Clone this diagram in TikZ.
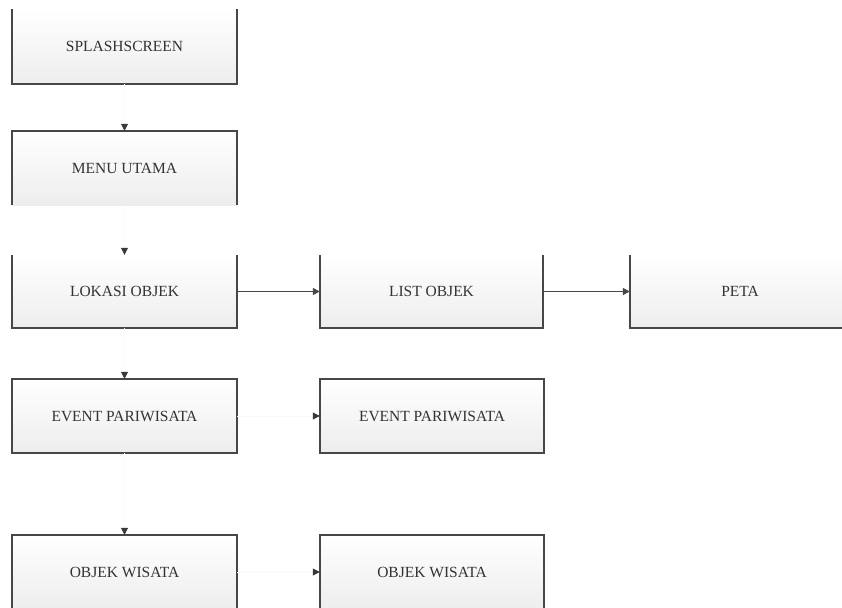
\documentclass[tikz,border=0pt]{standalone}
\usepackage{fontspec}
\setmainfont{Liberation Serif}
\usetikzlibrary{arrows.meta}
\begin{document}
\begin{tikzpicture}[x=1pt,y=-1pt,
  menubox/.style={draw=none, top color=white, bottom color=black!7,
    minimum width=225pt, minimum height=74pt, inner sep=0pt,
    font=\fontsize{15.5}{18}\selectfont, text=black!80},
  boxedge/.style={draw=black!72, line width=1.8pt},
  flow/.style={draw=black!72, line width=1.3pt,
    -{Triangle[length=7pt,width=7pt]}},
  faint/.style={draw=black!2, line width=0.8pt,
    -{Triangle[length=7pt,width=7pt,color=black!78]}}]
\useasboundingbox (0,0) rectangle (842,607);
\clip (0,0) rectangle (842,607);
\fill[white] (0,0) rectangle (842,607);

% boxes of the left column
\node[menubox] (splash) at (124.5,46.5) {SPLASHSCREEN};
\node[menubox] (menu)   at (124.5,168)  {MENU UTAMA};
\node[menubox, minimum height=73pt] (lokasi) at (124.5,291.5) {LOKASI OBJEK};
\node[menubox] (eventL) at (124.5,416)  {EVENT PARIWISATA};
\node[menubox] (objekL) at (124.5,572)  {OBJEK WISATA};

% boxes to the right
\node[menubox, minimum width=223pt, minimum height=73pt] (list) at (431.5,291.5) {LIST OBJEK};
\node[menubox, minimum width=220pt, minimum height=73pt] (peta) at (740,291.5) {PETA};
\node[menubox, minimum width=224pt] (eventR) at (432,416) {EVENT PARIWISATA};
\node[menubox, minimum width=224pt] (objekR) at (432,572) {OBJEK WISATA};

% outlines
\draw[boxedge] (splash.north west) -- (splash.south west) -- (splash.south east) -- (splash.north east);
\draw[boxedge] (menu.south west) -- (menu.north west) -- (menu.north east) -- (menu.south east);
\draw[boxedge] (lokasi.north west) -- (lokasi.south west) -- (lokasi.south east) -- (lokasi.north east);
\draw[boxedge] (list.north west) -- (list.south west) -- (list.south east) -- (list.north east);
\draw[boxedge] (peta.north west) -- (peta.south west) -- (peta.south east) -- (peta.north east);
\draw[boxedge] (eventL.north west) rectangle (eventL.south east);
\draw[boxedge] (eventR.north west) rectangle (eventR.south east);
\draw[boxedge] (objekL.north west) rectangle (objekL.south east);
\draw[boxedge] (objekR.north west) rectangle (objekR.south east);

% connectors
\draw[faint] (splash.south) -- (menu.north);
\draw[faint] (menu.south) -- (lokasi.north);
\draw[faint] (lokasi.south) -- (eventL.north);
\draw[faint] (eventL.south) -- (objekL.north);
\draw[flow] (lokasi.east) -- (list.west);
\draw[flow] (list.east) -- (peta.west);
\draw[faint] (eventL.east) -- (eventR.west);
\draw[faint] (objekL.east) -- (objekR.west);
\end{tikzpicture}
\end{document}
